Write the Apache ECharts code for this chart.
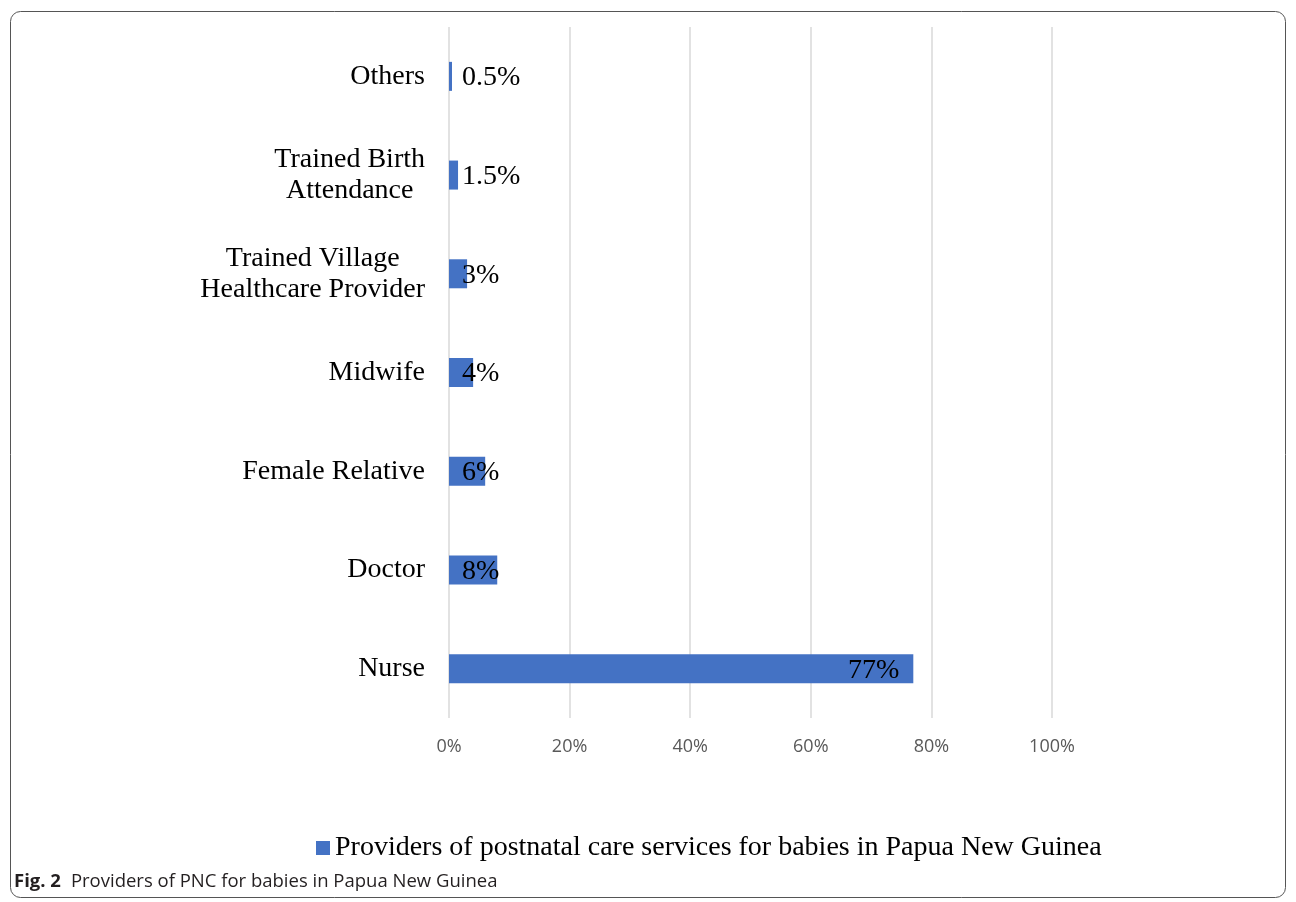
<!DOCTYPE html>
<html>
<head>
<meta charset="utf-8">
<script src="https://cdn.jsdelivr.net/npm/echarts@6/dist/echarts.min.js"></script>
<style>
html,body{margin:0;padding:0;background:#fff;}
#chart{width:1296px;height:902px;}
</style>
</head>
<body>
<div id="chart"></div>
<script>
// Data (top-to-bottom order)
const categories = ['Others', 'Trained Birth\nAttendance', 'Trained Village\nHealthcare Provider', 'Midwife', 'Female Relative', 'Doctor', 'Nurse'];
const values = [0.5, 1.5, 3, 4, 6, 8, 77];
const xTicks = [0, 20, 40, 60, 80, 100];
const seriesName = 'Providers of postnatal care services for babies in Papua New Guinea';
const captionBold = 'Fig. 2';
const captionText = 'Providers of PNC for babies in Papua New Guinea';

const serif = '"Liberation Serif", "Times New Roman", serif';
const barColor = '#4472c4';

const chart = echarts.init(document.getElementById('chart'));
const data = values.map(v => ({
  value: v,
  label: v > 20
    ? { position: 'insideRight', distance: 14 }
    : { position: 'insideLeft', distance: 13 }
}));

chart.setOption({
  animation: false,
  backgroundColor: '#fff',
  graphic: [{
    type: 'rect',
    shape: { x: 10.5, y: 11.5, width: 1275, height: 886, r: 10 },
    style: { fill: 'none', stroke: '#555', lineWidth: 1 },
    silent: true
  }],
  title: {
    text: '{b|' + captionBold + '}  {n|' + captionText + '}',
    left: 9, top: 867,
    textStyle: {
      fontWeight: 'normal',
      rich: {
        b: { fontFamily: '"Open Sans", sans-serif', fontWeight: 'bold', fontSize: 18.5, color: '#231f20' },
        n: { fontFamily: '"Open Sans", sans-serif', fontWeight: 'normal', fontSize: 18.5, color: '#231f20' }
      }
    }
  },
  legend: {
    data: [seriesName],
    left: 311, top: 829,
    itemWidth: 14, itemHeight: 14, itemGap: 7,
    icon: 'rect',
    textStyle: { fontFamily: serif, fontSize: 28, color: '#000' }
  },
  grid: { left: 449, right: 244, top: 27, bottom: 184, containLabel: false },
  xAxis: {
    type: 'value', min: xTicks[0], max: xTicks[xTicks.length - 1], interval: 20,
    axisLine: { show: false }, axisTick: { show: false },
    splitLine: { lineStyle: { color: '#d9d9d9', width: 1.5 } },
    axisLabel: { formatter: '{value}%', color: '#595959', fontSize: 18, fontFamily: '"Open Sans", sans-serif', margin: 20 }
  },
  yAxis: {
    type: 'category', data: categories, inverse: true,
    axisLine: { show: false }, axisTick: { show: false },
    axisLabel: {
      margin: 24,
      formatter: function (v) {
        return v.split('\n').map(l => '{c|' + l + '}').join('\n');
      },
      rich: { c: { fontFamily: serif, fontSize: 28, color: '#000', align: 'center', lineHeight: 31 } },
      fontFamily: serif, fontSize: 28, color: '#000', lineHeight: 31
    }
  },
  series: [{
    name: seriesName,
    type: 'bar',
    data: data,
    barWidth: 29,
    itemStyle: { color: barColor },
    label: {
      show: true,
      formatter: '{c}%',
      color: '#000',
      fontFamily: serif,
      fontSize: 28,
      offset: [0, 1.5]
    }
  }]
});
</script>
</body>
</html>
